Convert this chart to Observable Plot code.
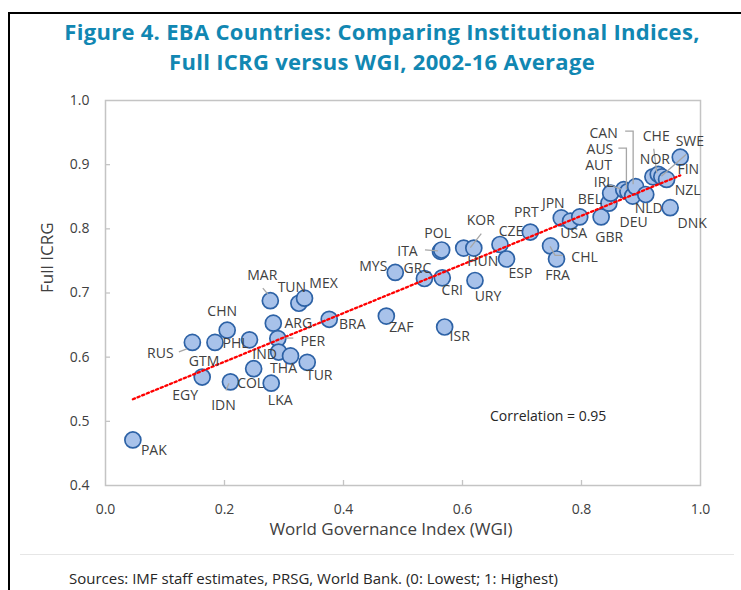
<!DOCTYPE html>
<html>
<head>
<meta charset="utf-8">
<script src="https://cdn.jsdelivr.net/npm/d3@7"></script>
<script src="https://cdn.jsdelivr.net/npm/@observablehq/plot@0.6"></script>
<style>
  body { margin: 0; background: #fff; }
  #wrap { position: relative; width: 741px; height: 590px; overflow: hidden; font-family: "Open Sans", sans-serif; }
  .bt { position: absolute; left: 8px; top: 12px; width: 760px; height: 2px; background: #000; }
  .bl { position: absolute; left: 8px; top: 12px; width: 2px; height: 600px; background: #000; }
  #title { position: absolute; left: 23px; width: 718px; top: 16px; text-align: center; color: #1187b2;
           font-weight: 700; font-size: 22px; letter-spacing: 0.3px; line-height: 30px; }
  #chart { position: absolute; left: 0; top: 85px; }
  #sep { position: absolute; left: 20px; top: 554px; width: 714px; height: 1px; background: #e6e6e6; }
  #source { position: absolute; left: 69px; top: 568px; font-size: 15px; line-height: 20px; color: #262626; white-space: nowrap; }
</style>
</head>
<body>
<div id="wrap">
  <div class="bt"></div>
  <div class="bl"></div>
  <div id="title">Figure 4. EBA Countries: Comparing Institutional Indices,<br>Full ICRG versus WGI, 2002-16 Average</div>
  <div id="chart"></div>
  <div id="sep"></div>
  <div id="source">Sources: IMF staff estimates, PRSG, World Bank. (0: Lowest; 1: Highest)</div>
</div>
<script>
// ---- data ----
const codes = ["PAK","RUS","GTM","CHN","PHL","EGY","IDN","COL","MAR","TUN","MEX","ARG","PER","IND","THA","TUR","LKA","BRA",
  "ZAF","ISR","MYS","GRC","CRI","ITA","POL","HUN","KOR","CZE","ESP","URY","PRT","CHL","FRA","JPN","","USA","GBR",
  "BEL","AUT","IRL","AUS","DEU","CAN","NLD","NOR","CHE","SWE","NZL","DNK","FIN"];
const wgi = [0.046,0.146,0.184,0.2045,0.242,0.1625,0.210,0.249,0.277,0.325,0.3345,0.282,0.2896,0.291,0.311,0.339,0.2785,0.376,
  0.472,0.570,0.487,0.536,0.566,0.563,0.565,0.602,0.619,0.663,0.674,0.621,0.714,0.748,0.758,0.766,0.7815,0.797,0.833,
  0.846,0.849,0.871,0.878,0.886,0.891,0.908,0.920,0.929,0.935,0.943,0.949,0.966];
const icrg = [0.471,0.623,0.623,0.642,0.627,0.569,0.5615,0.582,0.688,0.684,0.692,0.653,0.629,0.608,0.602,0.592,0.5595,0.659,
  0.664,0.647,0.732,0.7226,0.7236,0.765,0.767,0.770,0.770,0.7756,0.753,0.7195,0.795,0.7734,0.753,0.817,0.812,0.8186,0.8186,
  0.840,0.8555,0.861,0.858,0.851,0.8657,0.8535,0.881,0.885,0.881,0.877,0.833,0.9116];
const xTickValues = [0, 0.2, 0.4, 0.6, 0.8, 1.0];
const yTickValues = [0.4, 0.5, 0.6, 0.7, 0.8, 0.9, 1.0];
const correlationNote = [{wgi: 0.744, icrg: 0.508, text: "Correlation = 0.95"}];
const xTitle = "World Governance Index (WGI)";
const yTitle = "Full ICRG";

// ---- label placement (pixel offsets from each marker) ----
const labelOffsets = {
  PAK:[21,11], RUS:[-32,11], GTM:[-11,19], CHN:[-5,-19], PHL:[-14,4], EGY:[-17,18], IDN:[-7,24], COL:[-3,15],
  MAR:[-8,-25], TUN:[-7,-16], MEX:[19,-15], ARG:[25,0], PER:[35,3], IND:[-14,2], THA:[-7,13], TUR:[12,13],
  LKA:[9,17], BRA:[23,5], ZAF:[15,11], ISR:[15,10], MYS:[-22,-6], GRC:[-7,-10], CRI:[10,13], ITA:[-33,0],
  POL:[-4,-16], HUN:[19,13], KOR:[7,-28], CZE:[11,-13], ESP:[14,15], URY:[13,16], PRT:[-4,-20], CHL:[34,12],
  FRA:[1,17], JPN:[-8,-14], USA:[-6,17], GBR:[8,21], BEL:[-19,-4], AUT:[-12,-28], IRL:[-20,-7], AUS:[-28,-42],
  DEU:[1,26], CAN:[-32,-53], NLD:[3,14], NOR:[2,-17], CHE:[-2,-38], SWE:[28,-35], NZL:[21,11], DNK:[22,16], FIN:[8,12]
};
const leaders = [
  {code:"RUS", path:[[-13,10],[-5,7]]},
  {code:"IDN", path:[[-4,9],[-1,2]]},
  {code:"MAR", path:[[-7,-12],[-2,-6]]},
  {code:"PER", path:[[8,0],[16,0]]},
  {code:"ITA", path:[[-15,-1],[-2,0]]},
  {code:"KOR", path:[[8,-14],[-3,0]]},
  {code:"CHL", path:[[0,1],[5,10],[13,10]]},
  {code:"CAN", path:[[-10,-55],[-2,-55],[-2,-2]]},
  {code:"AUS", path:[[-9,-43],[-1,-43],[-1,-2]]},
  {code:"IRL", path:[[-16,-5],[-2,0]]},
  {code:"CHE", path:[[-4,-25],[-1,-1]]},
  {code:"SWE", path:[[25,-22],[0,0]]}
];

const points = codes.map((c, i) => ({code: c, wgi: wgi[i], icrg: icrg[i]}));
const byCode = new Map(points.filter(d => d.code).map(d => [d.code, d]));

const W = 741, H = 470, mt = 15, mb = 70, ml = 105, mr = 41;
const innerW = W - ml - mr, innerH = H - mt - mb;
const fmt = d3.format(".1f");
const ink = "#404040";

const labelMarks = points.filter(d => d.code).map(d => {
  const o = labelOffsets[d.code] || [0, 0];
  return Plot.text([d], {x: "wgi", y: "icrg", text: "code", dx: o[0], dy: o[1], fill: ink, fontSize: 14});
});

const leaderMark = (index, scales) => {
  const g = d3.create("svg:g").attr("fill", "none").attr("stroke", "#a6a6a6").attr("stroke-width", 1.3);
  for (const L of leaders) {
    const p = byCode.get(L.code);
    const cx = scales.x(p.wgi), cy = scales.y(p.icrg);
    g.append("polyline").attr("points", L.path.map(([dx, dy]) => `${cx + dx},${cy + dy}`).join(" "));
  }
  return g.node();
};

const chart = Plot.plot({
  width: W, height: H,
  marginTop: mt, marginBottom: mb, marginLeft: ml, marginRight: mr,
  x: {domain: [0, 1]},
  y: {domain: [0.4, 1]},
  style: {fontFamily: "Open Sans, sans-serif", fontSize: "14px", color: ink, background: "transparent", overflow: "visible"},
  marks: [
    Plot.frame({stroke: "#c4c4c4", strokeWidth: 1.5}),
    Plot.tickX(xTickValues.slice(1, -1), {x: d => d, stroke: "#c4c4c4", strokeWidth: 1.3, insetTop: innerH - 5}),
    Plot.tickY(yTickValues.slice(1, -1), {y: d => d, stroke: "#c4c4c4", strokeWidth: 1.3, insetRight: innerW - 5}),
    Plot.axisX(xTickValues, {tickSize: 0, tickPadding: 19, tickFormat: fmt, label: null, fontSize: 14, fill: ink}),
    Plot.axisY(yTickValues, {tickSize: 0, tickPadding: 16, tickFormat: fmt, label: null, fontSize: 14, fill: ink}),
    Plot.text([xTitle], {text: d => d, frameAnchor: "bottom", dy: 49, dx: -12, fontSize: 17, fill: ink}),
    Plot.text([yTitle], {text: d => d, frameAnchor: "left", rotate: -90, dx: -58, fontSize: 17, fill: ink}),
    Plot.dot(points, {x: "wgi", y: "icrg", r: 8, fill: "#a8c2ea", stroke: "#2d62a6", strokeWidth: 1.7}),
    Plot.linearRegressionY(points, {x: "wgi", y: "icrg", ci: 0, stroke: "#ff0000", strokeWidth: 2.3, strokeDasharray: "2.3,2.7"}),
    leaderMark,
    ...labelMarks,
    Plot.text(correlationNote, {x: "wgi", y: "icrg", text: "text", fontSize: 14, fill: "#262626"})
  ]
});
document.getElementById("chart").appendChild(chart);
</script>
</body>
</html>
